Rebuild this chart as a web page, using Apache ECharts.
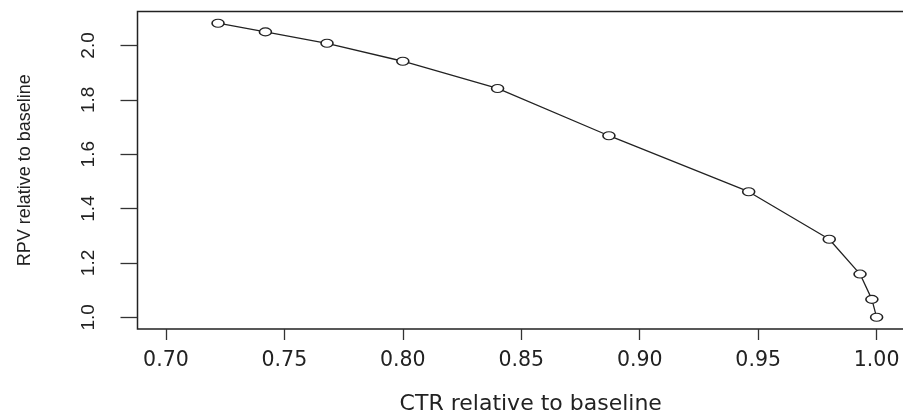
<!DOCTYPE html>
<html>
<head>
<meta charset="utf-8">
<script src="https://cdn.jsdelivr.net/npm/echarts@6/dist/echarts.min.js"></script>
<style>
  html, body { margin: 0; padding: 0; background: #fff; }
  #chart1 { width: 903px; height: 413px; }
</style>
</head>
<body>
<div id="chart1"></div>
<script>
// 读图得到的数据 CTR / RPV 相对基线
var ctr = [0.722, 0.742, 0.768, 0.800, 0.840, 0.887, 0.946, 0.980, 0.993, 0.998, 1.000];
var rpv = [2.082, 2.050, 2.008, 1.942, 1.842, 1.668, 1.462, 1.287, 1.159, 1.066, 1.000];
var xTicks = [0.70, 0.75, 0.80, 0.85, 0.90, 0.95, 1.00];
var yTicks = [1.0, 1.2, 1.4, 1.6, 1.8, 2.0];

var points = [];
for (var i = 0; i < ctr.length; i++) {
    points.push([ctr[i], rpv[i]]);
}

var dom = document.getElementById("chart1");
var myChart = echarts.init(dom, null, {renderer: 'canvas'});

// 右边框在图外 所以网格宽度超出画布
myChart.setOption({
    animation: false,
    backgroundColor: '#fff',
    grid: {
        left: 137.5,
        top: 11.5,
        width: 786.5,
        height: 317.5,
        outerBoundsMode: 'none',
        show: true,
        borderColor: '#222',
        borderWidth: 1.5,
        backgroundColor: 'transparent'
    },
    xAxis: {
        type: 'value',
        min: 0.688,
        max: 1.02,
        axisLine: {show: false},
        splitLine: {show: false},
        axisTick: {
            show: true,
            customValues: xTicks,
            length: 11,
            lineStyle: {color: '#333', width: 1.3}
        },
        axisLabel: {
            customValues: xTicks,
            margin: 21.5,
            color: '#222',
            fontFamily: 'DejaVu Sans',
            fontSize: 20.5,
            formatter: function (v) { return v.toFixed(2); }
        },
        name: 'CTR relative to baseline',
        nameLocation: 'middle',
        nameGap: 64.5,
        nameTextStyle: {color: '#222', fontFamily: 'DejaVu Sans', fontSize: 22}
    },
    yAxis: {
        type: 'value',
        min: 0.957,
        max: 2.125,
        axisLine: {show: false},
        splitLine: {show: false},
        axisTick: {
            show: true,
            customValues: yTicks,
            length: 17,
            lineStyle: {color: '#333', width: 1.3}
        },
        axisLabel: {
            customValues: yTicks,
            rotate: 90,
            margin: 39,
            color: '#222',
            fontFamily: 'Liberation Sans',
            fontSize: 19,
            formatter: function (v) { return v.toFixed(1); }
        },
        name: 'RPV relative to baseline',
        nameLocation: 'middle',
        nameGap: 103,
        nameRotate: 90,
        nameTextStyle: {color: '#222', fontFamily: 'Liberation Sans', fontSize: 18}
    },
    series: [{
        type: 'line',
        data: points,
        symbol: 'circle',
        symbolSize: [12, 8],
        showSymbol: true,
        lineStyle: {color: '#222', width: 1.3},
        itemStyle: {color: '#fff', borderColor: '#222', borderWidth: 1.3}
    }]
});
</script>
</body>
</html>
